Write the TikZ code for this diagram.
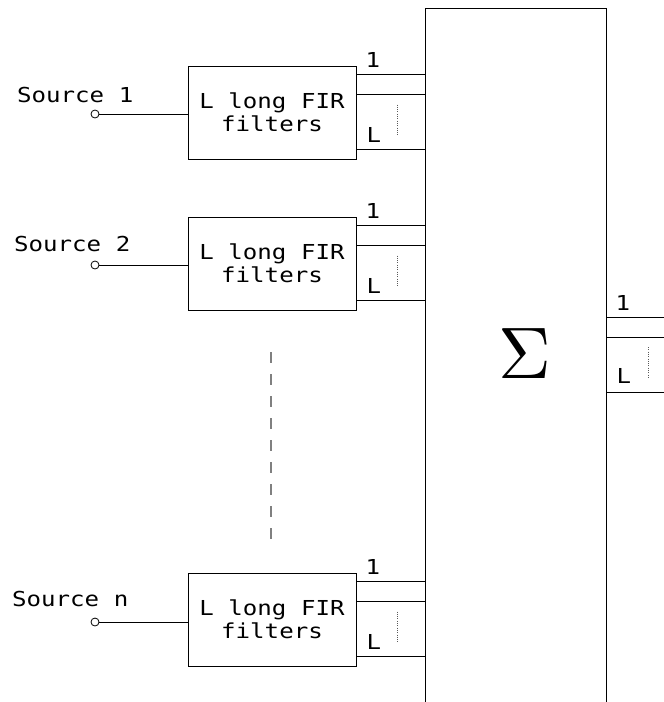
\documentclass[tikz,border=0pt]{standalone}
\usepackage{graphicx}
\usepackage{fontspec}
\setmonofont[FakeStretch=1.17]{DejaVu Sans Mono}
\usetikzlibrary{calc,positioning}

\tikzset{
  firbox/.style={draw,line width=0.9pt,minimum width=168pt,minimum height=93pt,inner sep=0pt,
    align=center,font=\ttfamily\fontsize{20.6}{23.4}\selectfont},
  port/.style={draw,circle,line width=0.8pt,inner sep=0pt,minimum size=8pt,fill=white},
  lbl/.style={inner sep=0pt,anchor=base west,font=\ttfamily\fontsize{20.6}{23.4}\selectfont},
  tap/.style={line width=0.9pt},
  tapdots/.style={gray!70!black,line width=0.8pt,dash pattern=on 1pt off 1.3pt},
}

\begin{document}
\begin{tikzpicture}[x=1pt,y=-1pt]
  \useasboundingbox (0,0) rectangle (664,702);
  \coordinate (edge) at (664,0);

  % summing block (runs off the bottom)
  \node[draw,line width=0.9pt,minimum width=181pt,minimum height=712pt,inner sep=0pt,
        anchor=north west] (sum) at (424.5,7.5) {};
  \node[anchor=base,inner sep=0pt] (sigma) at (525,378) {\scalebox{7.3}{$\Sigma$}};

  % source 1
  \node[lbl] (src1) at (17,102) {Source 1};
  \node[port] (in1) at (95,114) {};
  \node[firbox] (fir1) at (272,112.5) {L long FIR\\filters};
  \draw[tap] (in1) -- (in1 -| fir1.west);
  \path ($(fir1.north east)+(0,9)$) coordinate (t1a)
        ($(fir1.north east)+(0,29)$) coordinate (t1b)
        ($(fir1.north east)+(0,84)$) coordinate (t1l);
  \draw[tap] (t1a) -- (t1a -| sum.west) (t1b) -- (t1b -| sum.west) (t1l) -- (t1l -| sum.west);
  \node[lbl] (one1) at ($(t1a)+(9,-7)$) {1};
  \node[lbl] (ell1) at ($(t1l)+(10,-7)$) {L};
  \draw[tapdots] ($(t1b)+(41,10)$) -- ($(t1l)+(41,-15)$);

  % source 2
  \node[lbl] (src2) at (14,251) {Source 2};
  \node[port] (in2) at (95,265) {};
  \node[firbox] (fir2) at (272,263.5) {L long FIR\\filters};
  \draw[tap] (in2) -- (in2 -| fir2.west);
  \path ($(fir2.north east)+(0,9)$) coordinate (t2a)
        ($(fir2.north east)+(0,29)$) coordinate (t2b)
        ($(fir2.north east)+(0,84)$) coordinate (t2l);
  \draw[tap] (t2a) -- (t2a -| sum.west) (t2b) -- (t2b -| sum.west) (t2l) -- (t2l -| sum.west);
  \node[lbl] (one2) at ($(t2a)+(9,-7)$) {1};
  \node[lbl] (ell2) at ($(t2l)+(10,-7)$) {L};
  \draw[tapdots] ($(t2b)+(41,10)$) -- ($(t2l)+(41,-15)$);

  % source n
  \node[lbl] (srcn) at (12,606) {Source n};
  \node[port] (inn) at (95,622) {};
  \node[firbox] (firn) at (272,619.5) {L long FIR\\filters};
  \draw[tap] (inn) -- (inn -| firn.west);
  \path ($(firn.north east)+(0,9)$) coordinate (tna)
        ($(firn.north east)+(0,29)$) coordinate (tnb)
        ($(firn.north east)+(0,84)$) coordinate (tnl);
  \draw[tap] (tna) -- (tna -| sum.west) (tnb) -- (tnb -| sum.west) (tnl) -- (tnl -| sum.west);
  \node[lbl] (onen) at ($(tna)+(9,-7)$) {1};
  \node[lbl] (elln) at ($(tnl)+(10,-7)$) {L};
  \draw[tapdots] ($(tnb)+(41,10)$) -- ($(tnl)+(41,-15)$);

  % more sources
  \draw[gray,line width=1.2pt,dash pattern=on 11pt off 11pt]
    ($(fir2.south)+(-1,42)$) -- ($(firn.north)+(-1,-31)$);

  % outputs
  \path ($(sum.north east)+(0,309.5)$) coordinate (o1)
        ($(sum.north east)+(0,329.5)$) coordinate (o2)
        ($(sum.north east)+(0,384.5)$) coordinate (ol);
  \draw[tap] (o1) -- (o1 -| edge) (o2) -- (o2 -| edge) (ol) -- (ol -| edge);
  \node[lbl] (oneo) at ($(o1)+(9,-7)$) {1};
  \node[lbl] (ello) at ($(ol)+(10,-9)$) {L};
  \draw[tapdots] ($(o2)+(42,10)$) -- ($(ol)+(42,-15)$);
\end{tikzpicture}
\end{document}
